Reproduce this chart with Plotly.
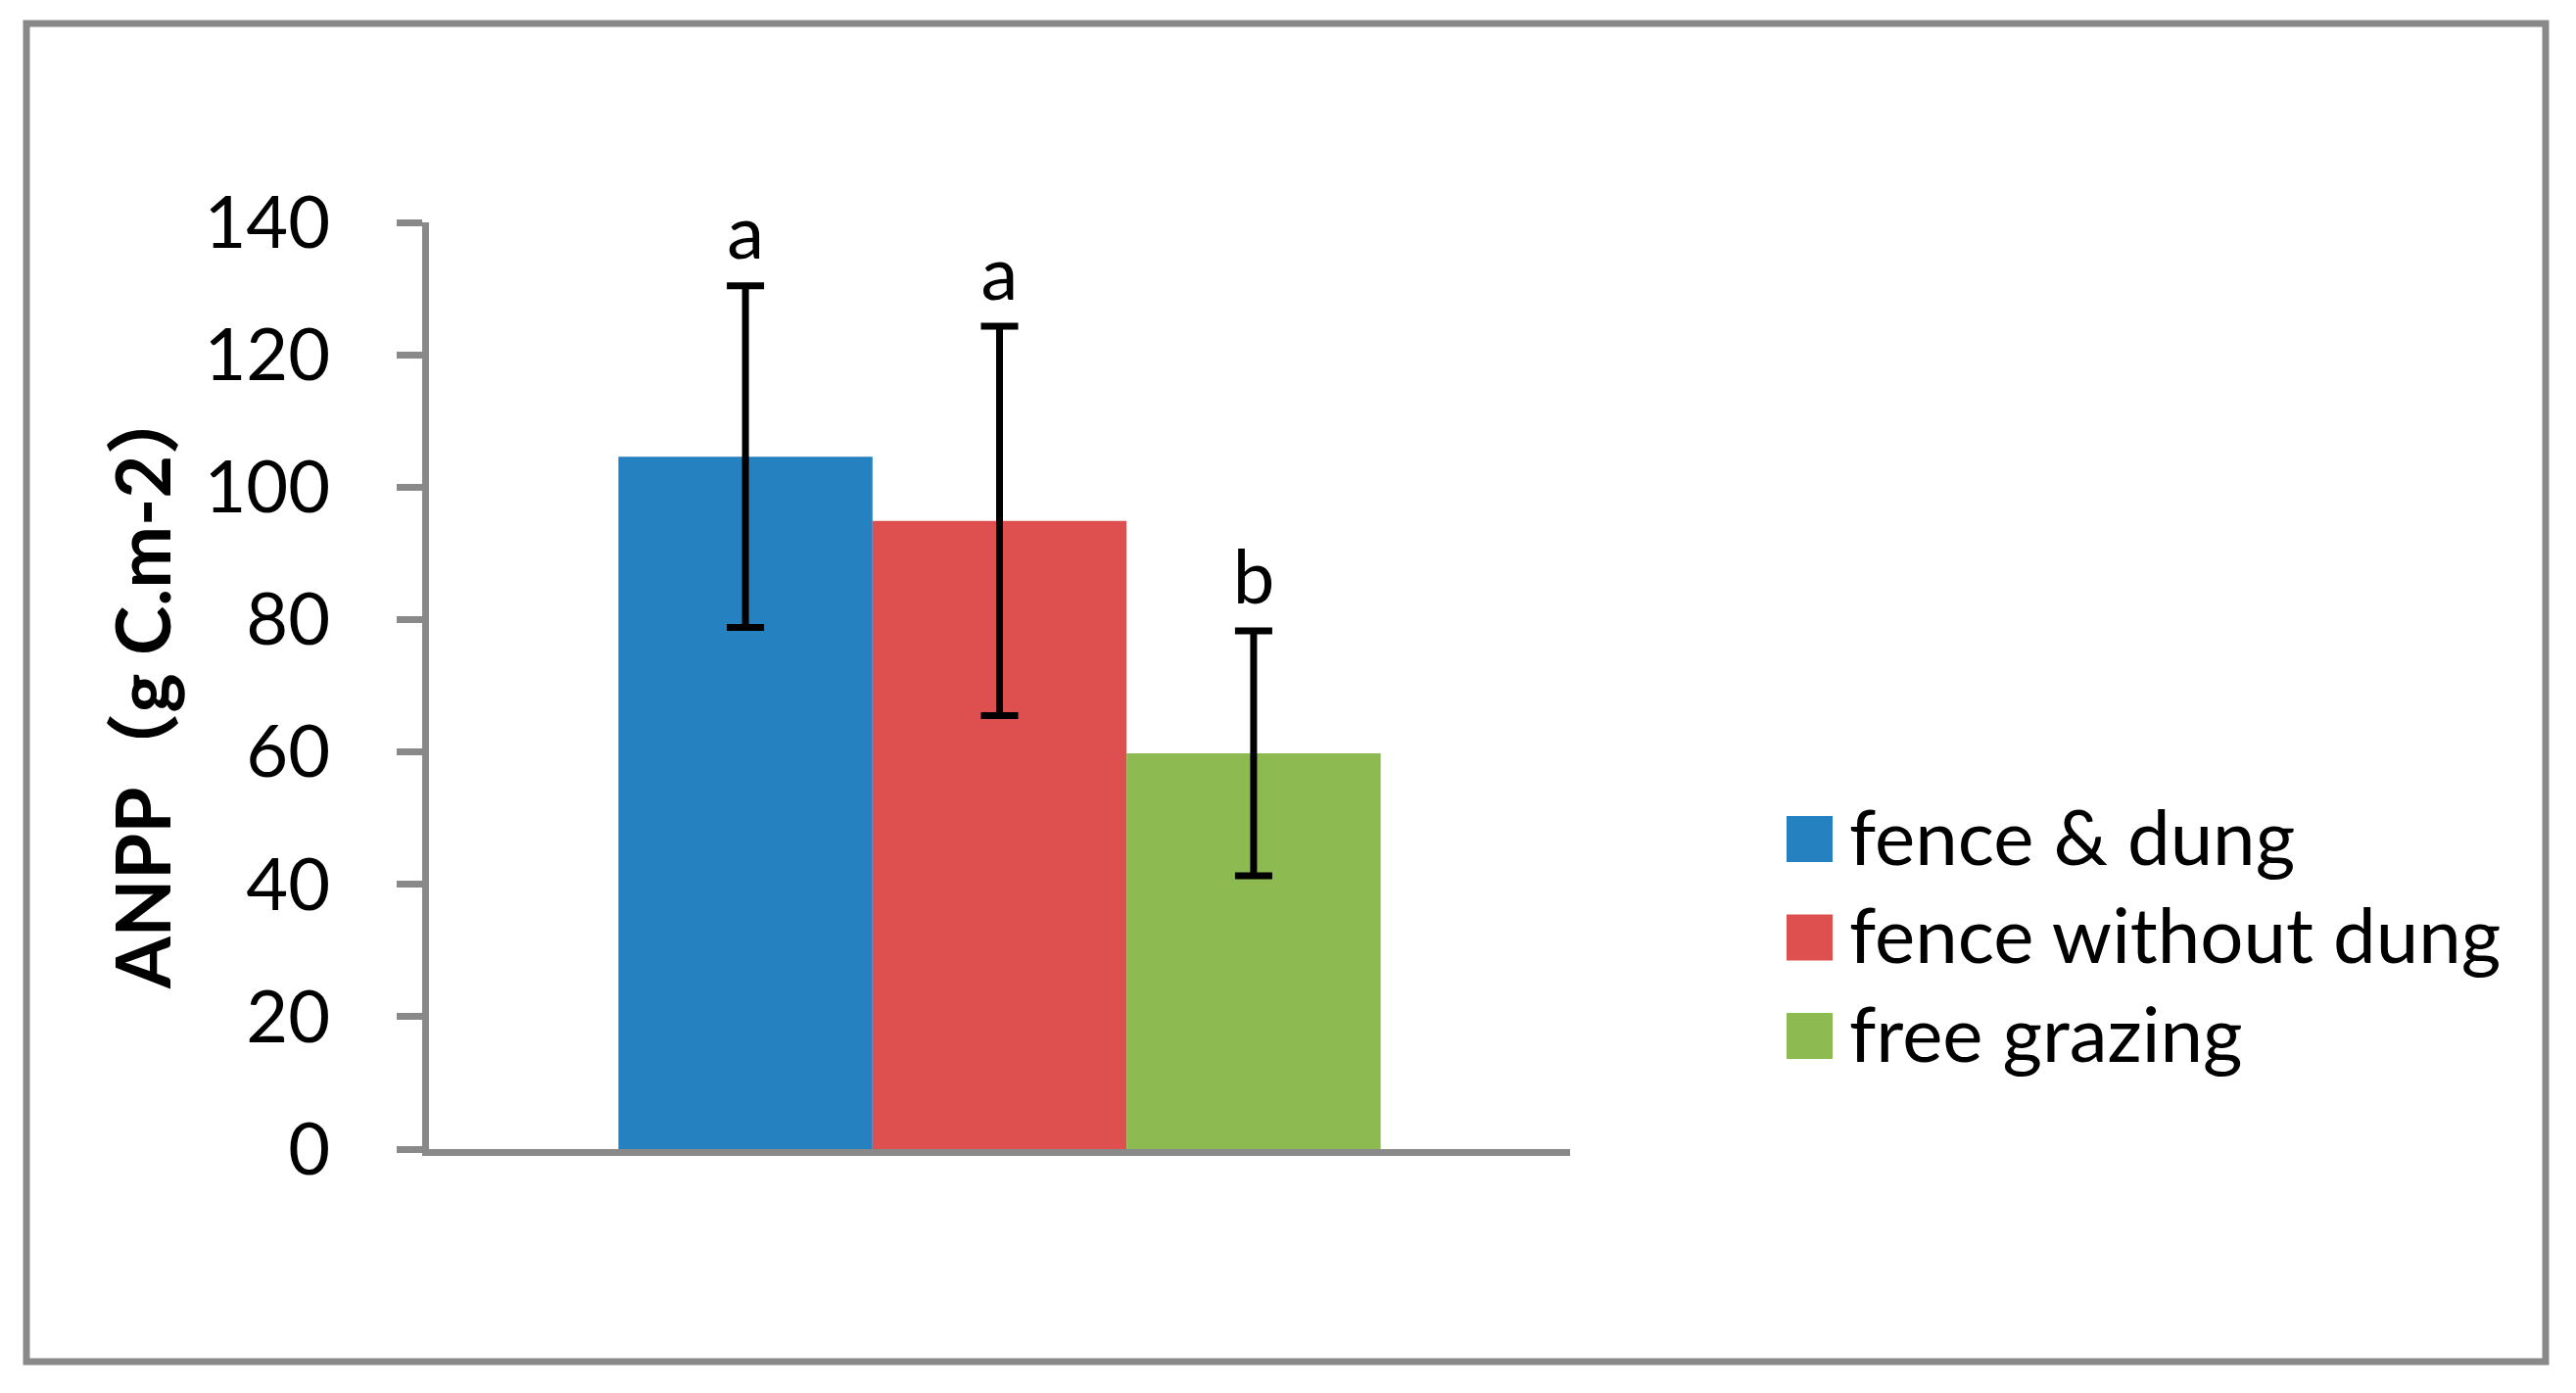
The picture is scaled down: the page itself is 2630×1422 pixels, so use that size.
import plotly.graph_objects as go

# data
treatments = ["fence & dung", "fence without dung", "free grazing"]
anpp_mean = [104.6, 94.9, 59.8]
anpp_err = [25.8, 29.4, 18.5]
sig_letters = ["a", "a", "b"]
colors = ["#2581C0", "#DE504F", "#8EBB51"]
category = ["ANPP"]

# the page body adds an 8px margin, so the figure is drawn 8px smaller
OFF = 8
W, H = 2630 - OFF, 1422 - OFF
# plot area in pixels (target picture coordinates)
L, R, T, B = 438, 1603, 227, 1173
GREY = "#898989"
FONT = "Lato, 'Open Sans', sans-serif"


def px(x):
    return (x - L) / (R - L)


def py(y):
    return (B - y) / (B - T)


fig = go.Figure()

for name, m, e, c in zip(treatments, anpp_mean, anpp_err, colors):
    fig.add_trace(go.Bar(
        x=category, y=[m], name=name, offsetgroup=name,
        marker=dict(color=c, line=dict(width=0)),
        error_y=dict(type="data", array=[e], color="black", thickness=7, width=19),
        showlegend=False,
    ))

# significance letters above the error bars
for name, m, e, lab in zip(treatments, anpp_mean, anpp_err, sig_letters):
    fig.add_trace(go.Scatter(
        x=category, y=[m + e], offsetgroup=name, mode="markers+text",
        text=[lab], textposition="top center", cliponaxis=False,
        marker=dict(size=12, opacity=0),
        textfont=dict(family=FONT, size=76, color="black"),
        showlegend=False, hoverinfo="skip",
    ))

shapes = []
annotations = []

# outer frame
shapes.append(dict(type="rect", xref="paper", yref="paper",
                   x0=px(27), x1=px(2599), y0=py(24), y1=py(1390),
                   line=dict(color=GREY, width=7), layer="below"))

# legend on the right
for i, (name, c) in enumerate(zip(treatments, colors)):
    cy = 856.5 + i * 100.5
    shapes.append(dict(type="rect", xref="paper", yref="paper",
                       x0=px(1824), x1=px(1871), y0=py(cy - 23.5), y1=py(cy + 23.5),
                       fillcolor=c, line=dict(width=0)))
    annotations.append(dict(xref="paper", yref="paper", x=px(1886), y=py(cy - 4),
                            xanchor="left", yanchor="middle", showarrow=False,
                            text=name, font=dict(family=FONT, size=78, color="black")))

# y axis title
annotations.append(dict(xref="paper", yref="paper", x=px(144), y=py(700),
                        xanchor="center", yanchor="middle", showarrow=False,
                        textangle=-90, text="<b>ANPP（g C.m-2）</b>",
                        font=dict(family="Lato, 'Noto Sans CJK SC', sans-serif",
                                  size=76, color="black")))

fig.update_layout(
    width=W, height=H,
    margin=dict(l=L - OFF, r=W - (R - OFF), t=T - OFF, b=H - (B - OFF)),
    paper_bgcolor="white", plot_bgcolor="white",
    barmode="group", bargap=0.332, bargroupgap=0,
    scattermode="group",
    shapes=shapes, annotations=annotations,
    showlegend=False,
)

fig.update_xaxes(showline=True, linecolor=GREY, linewidth=7,
                 showticklabels=False, ticks="", showgrid=False, zeroline=False)
fig.update_yaxes(range=[0, 140], dtick=20, tick0=0,
                 showline=True, linecolor=GREY, linewidth=7,
                 ticks="outside", ticklen=26, tickwidth=7, tickcolor=GREY,
                 ticklabelstandoff=53,
                 tickfont=dict(family=FONT, size=74, color="black"),
                 showgrid=False, zeroline=False)

fig.write_html("out.html")
